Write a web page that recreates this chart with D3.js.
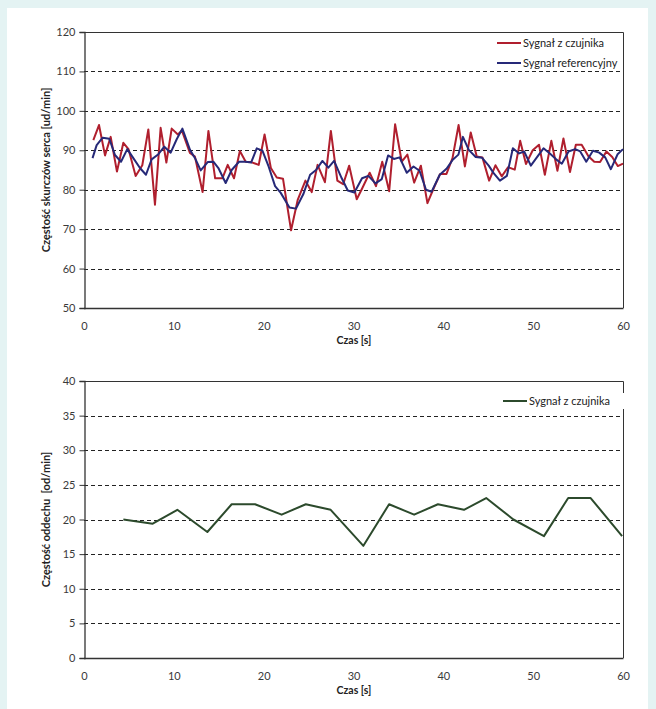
<!DOCTYPE html>
<html><head><meta charset="utf-8">
<script src="https://cdn.jsdelivr.net/npm/d3@7"></script>
<style>
html,body{margin:0;padding:0;background:#e4f3f3;}
svg{display:block;font-family:Lato,"Open Sans",sans-serif;}
</style></head>
<body>
<svg id="c" width="656" height="709"></svg>
<script>
// ---- data ----
const sensorTime = [1.04,1.67,2.34,2.97,3.67,4.38,4.95,5.75,6.49,7.16,7.90,8.53,9.17,9.76,10.45,10.9,11.8,12.35,13.2,13.85,14.6,15.4,16.0,16.7,17.35,18.0,18.6,19.45,20.1,20.8,21.46,22.15,23.05,23.8,24.65,25.35,26.0,26.82,27.48,28.2,28.85,29.52,30.36,31.0,31.8,32.5,33.2,33.97,34.63,35.37,36.0,36.75,37.5,38.23,38.95,39.65,40.35,41.02,41.7,42.4,43.05,43.72,44.35,45.1,45.8,46.5,47.2,47.95,48.55,49.2,49.95,50.65,51.3,52.02,52.7,53.37,54.1,54.75,55.4,56.15,56.8,57.45,58.15,58.8,59.42,60.0];
const sensorHR = [92.6,96.4,88.7,93.4,84.6,91.9,90.3,83.5,86.2,95.3,76.2,95.7,86.9,95.5,94.0,95.0,89.3,88.4,79.4,94.9,82.9,82.9,86.3,82.9,89.8,87.1,87.0,86.3,94.0,85.5,83.1,82.8,69.7,77.5,82.3,79.4,86.3,81.9,94.9,82.3,81.4,86.1,77.6,80.5,84.3,80.9,87.1,79.6,96.6,87.1,88.9,81.8,86.1,76.6,80.5,84.0,84.0,88.0,96.4,85.9,94.5,88.4,88.2,82.3,86.2,83.4,85.7,85.1,92.4,86.5,90.0,91.4,83.8,92.4,84.8,93.0,84.5,91.4,91.4,88.5,87.1,87.0,89.7,88.3,86.0,86.6];
const refTime = [0.95,1.41,2.08,2.82,3.45,4.12,4.82,5.49,6.23,6.9,7.53,8.28,8.94,9.65,10.32,10.95,11.8,12.36,12.99,13.77,14.4,14.96,15.77,16.44,17.26,18.0,18.6,19.23,19.86,20.55,21.27,21.9,22.87,23.6,24.42,25.17,25.83,26.54,27.2,27.84,28.69,29.36,30.1,30.95,31.65,32.45,33.15,33.85,34.5,35.13,35.93,36.68,37.35,38.07,38.7,39.6,40.35,41.05,41.68,42.18,42.83,43.6,44.32,45.05,45.6,46.3,47.07,47.74,48.44,49.0,49.74,50.41,51.15,51.89,52.56,53.19,53.94,54.68,55.24,55.91,56.65,57.35,58.02,58.65,59.4,60.0];
const refHR = [88.0,91.3,93.2,92.9,88.8,87.1,90.3,88.0,85.5,83.8,87.7,89.0,90.9,89.4,92.8,95.5,90.1,88.0,84.9,87.0,87.1,85.5,81.7,85.0,87.1,87.1,86.9,90.5,89.9,85.9,80.9,79.2,75.5,75.2,78.9,83.8,85.0,87.3,85.6,87.3,82.9,79.8,79.3,82.9,83.5,81.6,82.7,88.7,87.8,88.2,84.3,85.9,84.8,80.0,79.5,83.8,85.3,87.6,88.9,93.4,90.1,88.3,88.1,86.1,84.2,82.3,83.5,90.5,89.2,89.7,86.1,88.2,90.5,89.1,87.7,86.6,89.7,90.3,89.7,87.1,89.9,89.4,88.2,85.2,89.0,90.3];
const breathTime = [4.38,7.65,10.39,13.73,16.44,19.04,22.0,24.69,27.46,31.1,33.96,36.75,39.4,42.3,44.77,47.8,51.2,53.9,56.4,59.9];
const breathRate = [20.0,19.4,21.4,18.2,22.2,22.2,20.7,22.2,21.4,16.2,22.2,20.7,22.2,21.4,23.1,20.0,17.6,23.1,23.1,17.6];
const xTicks = [0,10,20,30,40,50,60];
const hrTicks = [50,60,70,80,90,100,110,120];
const brTicks = [0,5,10,15,20,25,30,35,40];
const titles = {
  hrY: "Częstość skurczów serca [ud/min]",
  brY: "Częstość oddechu  [od/min]",
  x: "Czas [s]",
  sensor: "Sygnał z czujnika",
  ref: "Sygnał referencyjny"
};
const colors = {sensor:"#b01f2e", ref:"#262978", breath:"#2c4a2c"};

// ---- drawing ----
const svg = d3.select("#c");
svg.append("rect").attr("x",7).attr("y",8).attr("width",641).attr("height",701).attr("fill","#fff");

function panel(opts){
  const x = d3.scaleLinear().domain([0,60]).range([84,623]);
  const y = d3.scaleLinear().domain(opts.domain).range([opts.bottom, opts.top]);
  const g = svg.append("g");
  // grid
  g.selectAll(".grid").data(opts.ticks.slice(1,-1)).enter().append("line")
    .attr("x1",84).attr("x2",623).attr("y1",d=>Math.round(y(d))+0.5).attr("y2",d=>Math.round(y(d))+0.5)
    .attr("stroke","#222").attr("stroke-width",1).attr("stroke-dasharray","4,3");
  // frame top & right
  g.append("path").attr("d",`M84,${opts.top+0.5}H623.5V${opts.bottom}`).attr("fill","none").attr("stroke","#333").attr("stroke-width",1);
  // axes
  const ya = d3.axisLeft(y).tickValues(opts.ticks).tickSize(5).tickPadding(4).tickFormat(d3.format("d"));
  const yg = g.append("g").attr("transform","translate(84.5,0)").call(ya);
  const xa = d3.axisBottom(x).tickValues(xTicks).tickSize(0).tickPadding(14).tickFormat(d3.format("d"));
  const xg = g.append("g").attr("transform",`translate(0,${opts.bottom+0.5})`).call(xa);
  [yg,xg].forEach(a=>{
    a.select(".domain").attr("stroke","#333").attr("stroke-width",1.3);
    a.selectAll(".tick line").attr("stroke","#333");
    a.selectAll("text").attr("fill","#3a3a3a").style("font-size","11px").style("font-family","Lato,'Open Sans',sans-serif");
  });
  xg.select(".domain").attr("d",`M84,0H623.5`);
  // labels
  g.append("text").attr("x",354).attr("y",opts.bottom+36).attr("text-anchor","middle")
    .style("font-size","10.5px").style("font-weight","bold").attr("fill","#222").text(titles.x);
  g.append("text").attr("transform",`translate(50,${(opts.top+opts.bottom)/2}) rotate(-90)`)
    .attr("text-anchor","middle").style("font-size","11px").style("font-weight","bold")
    .style("white-space","pre").attr("fill","#222").text(opts.yTitle);
  // series
  const line = d3.line().x(d=>x(d[0])).y(d=>y(d[1]));
  opts.series.forEach((s,i)=>{
    g.append("path").datum(d3.zip(s.t,s.v)).attr("d",line).attr("fill","none")
      .attr("stroke",s.color).attr("stroke-width",2).attr("stroke-linejoin","round");
    const ly = opts.legendY + i*20;
    g.append("rect").attr("x",opts.legendX-4).attr("y",ly-8).attr("width",130).attr("height",16).attr("fill","#fff");
    g.append("line").attr("x1",opts.legendX).attr("x2",opts.legendX+24).attr("y1",ly).attr("y2",ly)
      .attr("stroke",s.color).attr("stroke-width",2);
    g.append("text").attr("x",opts.legendX+26).attr("y",ly).attr("dy","0.35em")
      .style("font-size","11px").attr("fill","#222").text(s.name);
  });
}

panel({domain:[50,120], top:32, bottom:308, ticks:hrTicks, yTitle:titles.hrY, legendX:497, legendY:43,
  series:[{t:sensorTime,v:sensorHR,color:colors.sensor,name:titles.sensor},
          {t:refTime,v:refHR,color:colors.ref,name:titles.ref}]});
panel({domain:[0,40], top:381, bottom:658, ticks:brTicks, yTitle:titles.brY, legendX:503, legendY:401,
  series:[{t:breathTime,v:breathRate,color:colors.breath,name:titles.sensor}]});
</script>
</body></html>
